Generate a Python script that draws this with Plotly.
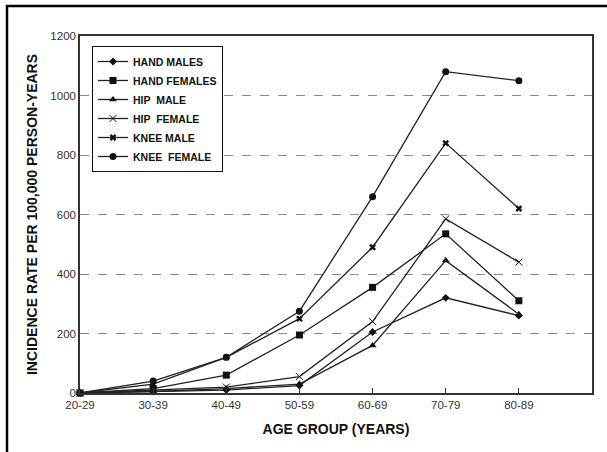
import plotly.graph_objects as go

# Age groups and incidence rates per 100,000 person-years
categories = ["20-29", "30-39", "40-49", "50-59", "60-69", "70-79", "80-89"]
hand_males = [0, 5, 10, 25, 205, 320, 260]
hand_females = [0, 15, 60, 195, 355, 535, 310]
hip_male = [0, 5, 15, 30, 160, 445, 265]
hip_female = [0, 10, 20, 55, 240, 585, 440]
knee_male = [0, 30, 120, 250, 490, 840, 620]
knee_female = [0, 40, 120, 275, 660, 1080, 1050]
y_ticks = [0, 200, 400, 600, 800, 1000, 1200]

FONT = "Liberation Sans, Arial, sans-serif"

series = [
    ("HAND MALES", hand_males, dict(symbol="diamond", size=6)),
    ("HAND FEMALES", hand_females, dict(symbol="square", size=7)),
    ("HIP  MALE", hip_male, dict(symbol="triangle-up", size=7)),
    ("HIP  FEMALE", hip_female, dict(symbol="x-thin-open", size=7,
                                     line=dict(width=1, color="#222"))),
    ("KNEE MALE", knee_male, dict(symbol="x", size=6)),
    ("KNEE  FEMALE", knee_female, dict(symbol="circle", size=7)),
]

fig = go.Figure()
for name, vals, mk in series:
    marker = dict(color="#111")
    marker.update(mk)
    fig.add_trace(go.Scatter(
        x=categories, y=vals, name=name, mode="lines+markers",
        line=dict(color="#222", width=1.3), marker=marker, cliponaxis=False,
    ))

W, H = 607, 452
L, R, T, B = 80, 15, 36, 59
pw, ph = W - L - R, H - T - B

def px_x(p):
    return (p - L) / pw

def px_y(p):
    return (H - B - p) / ph

fig.update_layout(
    width=W, height=H,
    margin=dict(l=L, r=R, t=T, b=B),
    paper_bgcolor="white", plot_bgcolor="white",
    font=dict(family=FONT, color="#222"),
    showlegend=True,
    legend=dict(
        x=px_x(92), y=px_y(46), xanchor="left", yanchor="top",
        bgcolor="white", bordercolor="#111", borderwidth=1,
        font=dict(family=FONT, size=10.5, color="#111", weight="bold"),
        itemwidth=30, tracegroupgap=0,
    ),
    xaxis=dict(
        type="category", categoryorder="array", categoryarray=categories,
        range=[0, 7], showgrid=False, zeroline=False,
        showline=True, linecolor="#333", linewidth=1.5, mirror=True,
        ticks="inside", ticklen=5, tickcolor="#333",
        tickfont=dict(family=FONT, size=11.5, color="#333"),
        title=dict(text="AGE GROUP (YEARS)", standoff=15,
                   font=dict(family=FONT, size=14, color="#111", weight="bold")),
    ),
    yaxis=dict(
        range=[0, 1200], tickvals=y_ticks, showgrid=True,
        gridcolor="#8a8a8a", griddash="dash", gridwidth=1.3, zeroline=False,
        showline=True, linecolor="#333", linewidth=1.5, mirror=True,
        ticks="", tickfont=dict(family=FONT, size=11.5, color="#333"),
        title=dict(text="INCIDENCE RATE PER 100,000 PERSON-YEARS", standoff=9,
                   font=dict(family=FONT, size=14, color="#111", weight="bold")),
    ),
)

# Outer frame around the figure
fig.add_shape(
    type="rect", xref="paper", yref="paper",
    x0=px_x(7), x1=px_x(620), y0=px_y(470), y1=px_y(6),
    line=dict(color="black", width=2.5), fillcolor="rgba(0,0,0,0)",
    layer="above",
)

fig.write_html("out.html")
